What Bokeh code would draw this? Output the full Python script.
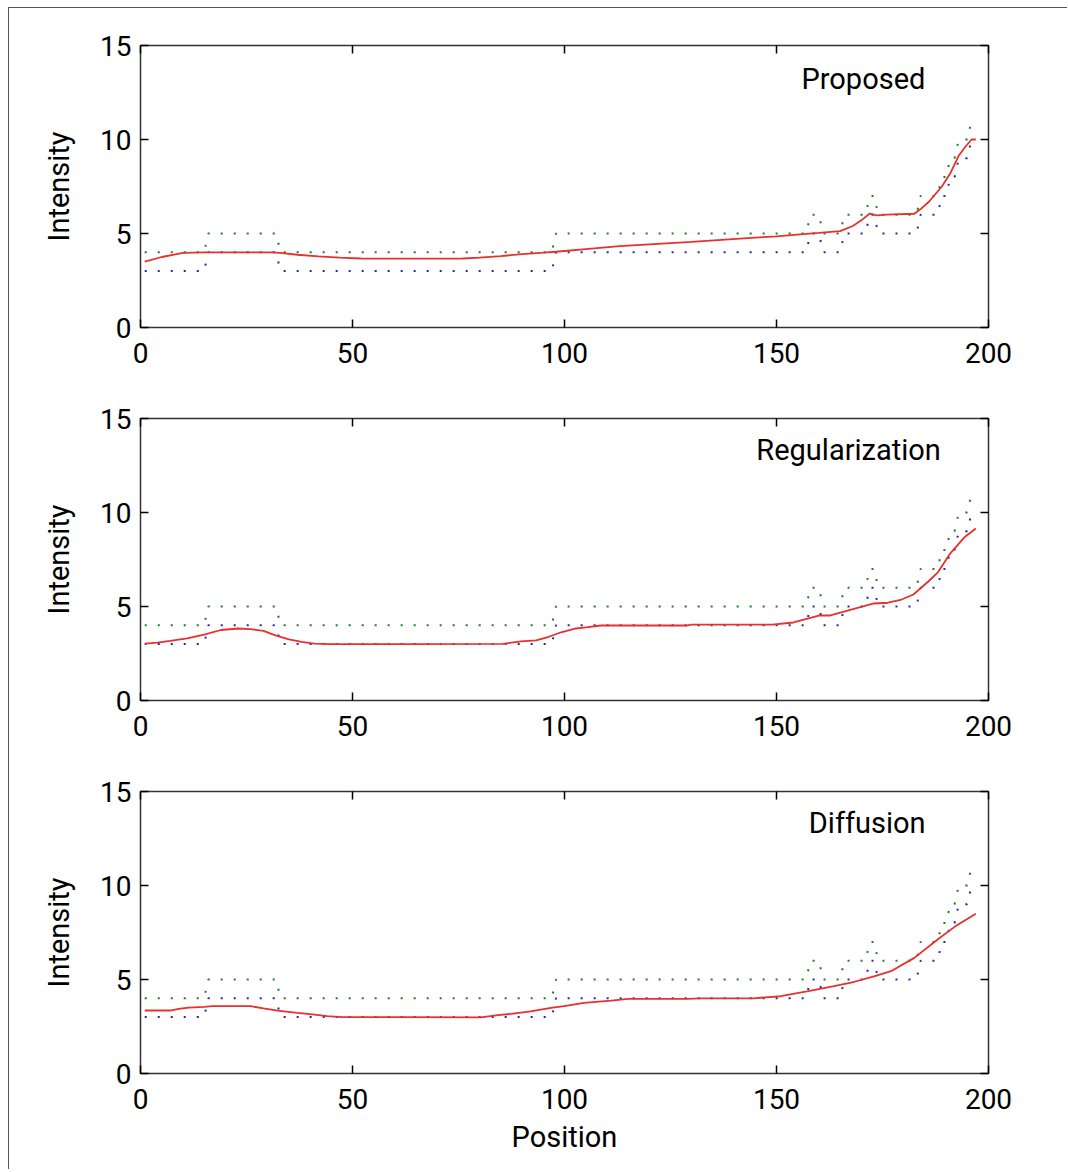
from bokeh.plotting import figure
from bokeh.layouts import column
from bokeh.models import LinearAxis, FixedTicker, Label, Range1d
from bokeh.embed import file_html
from bokeh.resources import INLINE

# ---- data ----
x_ticks = [0, 50, 100, 150, 200]
y_ticks = [0, 5, 10, 15]

# upper (green) and lower (blue) dotted data traces: vertices of the step curves
upper_x = [1, 15, 16, 32, 33, 97, 98, 157, 158, 160, 161, 165, 166, 171, 172, 173, 174, 183,
           184, 188, 189, 190, 191, 192, 193, 195, 196, 197]
upper_y = [4, 4, 5, 5, 4, 4, 5, 5, 6, 6, 5, 5, 6, 6, 7, 7, 6, 6,
           7, 7, 8, 8, 9, 9, 10, 10, 11, 11]
lower_x = upper_x
lower_y = [3, 3, 4, 4, 3, 3, 4, 4, 5, 5, 4, 4, 5, 5, 6, 6, 5, 5,
           6, 6, 7, 7, 8, 8, 9, 9, 10, 10]

# red estimated curves
prop_x = [1, 5, 10, 15, 31, 33, 37, 42, 47, 52, 60, 70, 76, 80, 85, 90, 95, 98, 100, 105, 113,
          120, 130, 137, 145, 150, 157, 160, 165, 168, 170, 172, 173.6, 176, 182.5, 184, 186,
          189, 191, 193, 194.5, 196, 197]
prop_y = [3.5, 3.75, 3.97, 4.0, 4.0, 3.97, 3.87, 3.78, 3.72, 3.67, 3.66, 3.66, 3.67, 3.72, 3.8,
          3.9, 3.98, 4.03, 4.07, 4.17, 4.33, 4.42, 4.55, 4.66, 4.78, 4.85, 4.98, 5.03, 5.13, 5.4,
          5.7, 6.06, 5.96, 6.0, 6.05, 6.3, 6.7, 7.5, 8.2, 9.15, 9.6, 10.0, 10.0]

reg_x = [1, 4, 7, 11, 15, 19, 23, 26, 29, 32, 35, 38, 41, 45, 60, 85.5, 89.7, 93.3, 96.3, 99.2,
         102.7, 105.5, 108.6, 129, 130, 149, 154, 160, 162.5, 167.6, 173, 176.3, 179.5, 182.3,
         185.8, 188, 190.8, 194.4, 197]
reg_y = [3.02, 3.08, 3.17, 3.3, 3.5, 3.75, 3.83, 3.8, 3.7, 3.45, 3.25, 3.12, 3.02, 3.0, 3.0, 3.01,
         3.15, 3.2, 3.39, 3.63, 3.83, 3.9, 3.99, 3.99, 4.04, 4.04, 4.15, 4.52, 4.52, 4.84, 5.16,
         5.2, 5.37, 5.64, 6.33, 6.8, 7.77, 8.7, 9.15]

dif_x = [1, 7, 9, 11.4, 15, 17, 26, 29, 32.3, 37, 40.6, 44, 47.7, 60, 80.3, 84.3, 87.4, 92, 96.8,
         99.9, 104.6, 111, 115, 129, 132, 144.5, 151, 157.5, 163.6, 168.4, 173, 177, 182.5, 188,
         192, 197]
dif_y = [3.35, 3.35, 3.44, 3.5, 3.54, 3.58, 3.58, 3.46, 3.35, 3.23, 3.14, 3.05, 3.0, 3.0, 2.99,
         3.1, 3.17, 3.31, 3.49, 3.58, 3.76, 3.88, 3.97, 3.97, 4.0, 4.0, 4.11, 4.38, 4.65, 4.88,
         5.17, 5.44, 6.15, 7.13, 7.8, 8.5]

titles = ["Proposed", "Regularization", "Diffusion"]
title_x = [170.5, 167.0, 171.4]
title_y = [13.22, 13.35, 13.35]

FONT = "Roboto"
FS = "28px"
FS_TEXT = "29px"
GREEN = "#1f7f1f"
BLUE = "#2626b0"
RED = "#e8302c"


def make_panel(rx, ry, title, tx, ty, last):
    p = figure(frame_width=848, frame_height=282,
               x_range=Range1d(0, 200), y_range=Range1d(0, 15),
               output_backend="svg", toolbar_location=None,
               min_border_left=131, min_border_right=79, min_border_top=37,
               min_border_bottom=96 if last else 54,
               x_axis_location=None, y_axis_location=None)
    p.grid.visible = False
    p.outline_line_color = "#333333"
    p.outline_line_width = 1.5
    p.background_fill_color = "white"
    p.border_fill_color = "white"

    for loc, ticks, show in (("below", x_ticks, True), ("above", x_ticks, False),
                             ("left", y_ticks, True), ("right", y_ticks, False)):
        ax = LinearAxis(ticker=FixedTicker(ticks=ticks))
        ax.axis_line_color = None
        ax.major_tick_in = 8
        ax.major_tick_out = 0
        ax.major_tick_line_color = "black"
        ax.major_tick_line_width = 1.5
        ax.minor_tick_line_color = None
        if show:
            ax.major_label_text_font = FONT
            ax.major_label_text_font_size = FS
            ax.major_label_text_color = "black"
            ax.major_label_standoff = 15 if loc == "below" else 9
        else:
            ax.major_label_text_font_size = "0px"
            ax.major_label_text_color = None
            ax.major_label_standoff = 0
        if loc == "left":
            ax.axis_label = "Intensity"
            ax.axis_label_text_font = FONT
            ax.axis_label_text_font_size = FS_TEXT
            ax.axis_label_text_font_style = "normal"
            ax.axis_label_text_color = "black"
            ax.axis_label_standoff = 21
        if loc == "below" and last:
            ax.axis_label = "Position"
            ax.axis_label_text_font = FONT
            ax.axis_label_text_font_size = FS_TEXT
            ax.axis_label_text_font_style = "normal"
            ax.axis_label_text_color = "black"
            ax.axis_label_standoff = 8
        p.add_layout(ax, loc)

    p.line(upper_x, upper_y, line_color=GREEN, line_width=2, line_dash="2 11")
    p.line(lower_x, lower_y, line_color=BLUE, line_width=2, line_dash="2 11")
    p.line(rx, ry, line_color=RED, line_width=1.8)

    p.add_layout(Label(x=tx, y=ty, text=title, text_align="center", text_baseline="middle",
                       text_font=FONT, text_font_size=FS_TEXT, text_color="black"))
    return p


p1 = make_panel(prop_x, prop_y, titles[0], title_x[0], title_y[0], False)
p2 = make_panel(reg_x, reg_y, titles[1], title_x[1], title_y[1], False)
p3 = make_panel(dif_x, dif_y, titles[2], title_x[2], title_y[2], True)

layout = column(p1, p2, p3, spacing=0,
                styles={"border-left": "1px solid #555555", "border-top": "1px solid #555555",
                        "background-color": "white", "margin-left": "8px", "margin-top": "7px"})

open("out.html", "w").write(file_html(layout, INLINE))
